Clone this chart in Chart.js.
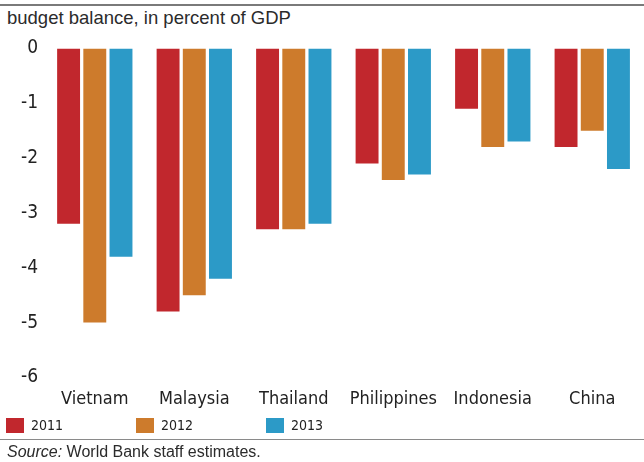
<!DOCTYPE html>
<html>
<head>
<meta charset="utf-8">
<script src="https://cdn.jsdelivr.net/npm/chart.js@4"></script>
<style>
  body { margin: 0; background: #fff; }
  #wrap { position: relative; width: 644px; height: 462px; font-family: 'Liberation Sans', Arial, sans-serif; color: #222; }
  .rule { position: absolute; left: 0; width: 644px; background: #7a7a7a; }
  #title { position: absolute; left: 7px; top: 7px; font-size: 18.5px; color: #2b2b2b; }
  #chartBox { position: absolute; left: 0; top: 30px; width: 644px; height: 391px; }
  #legend { position: absolute; left: 6px; top: 417px; font-family: 'DejaVu Sans Condensed', sans-serif; font-size: 14px; }
  .item { position: absolute; top: 0; white-space: nowrap; }
  .sw { display: inline-block; width: 18px; height: 15px; vertical-align: -3px; margin-right: 7px; }
  #source { position: absolute; left: 7px; top: 443px; font-size: 16px; color: #2b2b2b; }
</style>
</head>
<body>
<div id="wrap">
  <div class="rule" style="top:4px;height:2px;"></div>
  <div id="title">budget balance, in percent of GDP</div>
  <div id="chartBox"><canvas id="grafico"></canvas></div>
  <div id="legend"></div>
  <div class="rule" style="top:439px;height:1px;background:#8a8a8a;"></div>
  <div id="source"><i>Source:</i> World Bank staff estimates.</div>
</div>
<script>
const paises = ['Vietnam', 'Malaysia', 'Thailand', 'Philippines', 'Indonesia', 'China'];
const anos = ['2011', '2012', '2013'];
const valores2011 = [-3.2, -4.8, -3.3, -2.1, -1.1, -1.8];
const valores2012 = [-5.0, -4.5, -3.3, -2.4, -1.8, -1.5];
const valores2013 = [-3.8, -4.2, -3.2, -2.3, -1.7, -2.2];
const cores = ['#c1272d', '#cd7b2c', '#2c9ac7'];

const series = [valores2011, valores2012, valores2013];

// legenda em HTML, com espaçamento fixo como no original
const legenda = document.getElementById('legend');
anos.forEach((ano, i) => {
  const item = document.createElement('div');
  item.className = 'item';
  item.style.left = (i * 130) + 'px';
  item.innerHTML = `<span class="sw" style="background:${cores[i]}"></span>${ano}`;
  legenda.appendChild(item);
});

const narrow = "'DejaVu Sans Condensed', sans-serif";

new Chart(document.getElementById('grafico').getContext('2d'), {
  type: 'bar',
  data: {
    labels: paises,
    datasets: anos.map((ano, i) => ({
      label: ano,
      data: series[i],
      backgroundColor: cores[i],
      borderWidth: 0,
      barPercentage: 0.875,
      categoryPercentage: 0.79
    }))
  },
  options: {
    responsive: true,
    maintainAspectRatio: false,
    animation: false,
    layout: { padding: { left: 14, right: 2, top: 11, bottom: 0 } },
    plugins: {
      legend: { display: false },
      tooltip: { enabled: false }
    },
    scales: {
      x: {
        grid: { display: false, drawTicks: false },
        border: { display: false },
        ticks: { color: '#222', font: { family: narrow, size: 18 }, padding: 11 }
      },
      y: {
        min: -6,
        max: 0,
        grid: { display: false, drawTicks: false },
        border: { display: false },
        ticks: { stepSize: 1, color: '#222', font: { family: narrow, size: 19 }, padding: 7 }
      }
    }
  }
});
</script>
</body>
</html>
